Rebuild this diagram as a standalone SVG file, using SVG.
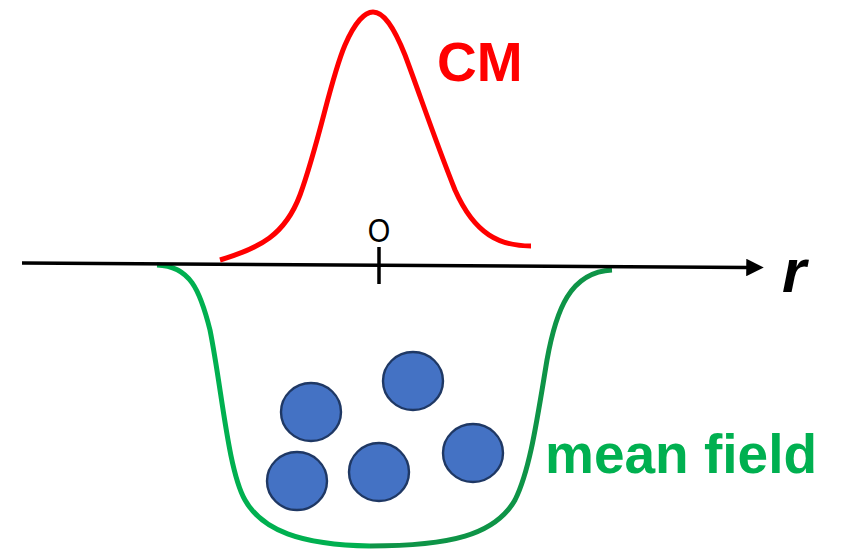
<svg xmlns="http://www.w3.org/2000/svg" width="846" height="550" viewBox="0 0 846 550">
<style>
.lbl{font-family:"Liberation Sans",Arial,sans-serif;font-weight:bold}
.p{fill:#4472c4;stroke:#1f3864;stroke-width:2.4}
</style>
<defs>
<marker id="ah" markerWidth="5" markerHeight="5" refX="0.5" refY="2.5" orient="auto" markerUnits="strokeWidth">
<path d="M0,0 L5,2.5 L0,5 Z" fill="#000"/>
</marker>
</defs>
<rect width="846" height="550" fill="#fff"/>
<g id="well">
<path d="M157,265 C190,266 200,290 210,330 C222,390 228,470 245,500 C262,530 300,545 370,546" fill="none" stroke="#00b050" stroke-width="5"/>
<path d="M370,546 C450,546 495,535 515,500 C530,470 537,420 547,360 C556,310 570,272 612,270" fill="none" stroke="#0e9447" stroke-width="5"/>
</g>
<g id="axis">
<line x1="22" y1="263" x2="748" y2="267.5" stroke="#000" stroke-width="3.5" marker-end="url(#ah)"/>
<line x1="379" y1="247" x2="379" y2="284" stroke="#000" stroke-width="3.5"/>
<text x="379" y="242" text-anchor="middle" font-family="Liberation Sans,Arial,sans-serif" font-size="34" transform="translate(379 242) scale(0.85 1) translate(-379 -242)">O</text>
<text x="782" y="292" font-family="Liberation Sans,Arial,sans-serif" font-weight="bold" font-style="italic" font-size="62">r</text>
</g>
<g id="cm">
<path d="M220,260 C260,248 285,235 300,195 C320,140 330,80 345,45 C355,22 365,12 373,12 C383,12 393,25 405,55 C420,95 435,140 455,190 C475,235 500,246 531,246" fill="none" stroke="#ff0000" stroke-width="5"/>
<text class="lbl" x="437" y="81" font-size="55" fill="#ff0000">CM</text>
</g>
<g id="particles">
<ellipse class="p" cx="311" cy="412" rx="30" ry="29"/>
<ellipse class="p" cx="413" cy="381" rx="30" ry="29"/>
<ellipse class="p" cx="297" cy="481" rx="30" ry="29"/>
<ellipse class="p" cx="379" cy="472" rx="30" ry="29"/>
<ellipse class="p" cx="473" cy="453" rx="30" ry="29"/>
</g>
<g id="label-mf">
<text class="lbl" x="545" y="473" font-size="55" fill="#00b050">mean field</text>
</g>
</svg>
